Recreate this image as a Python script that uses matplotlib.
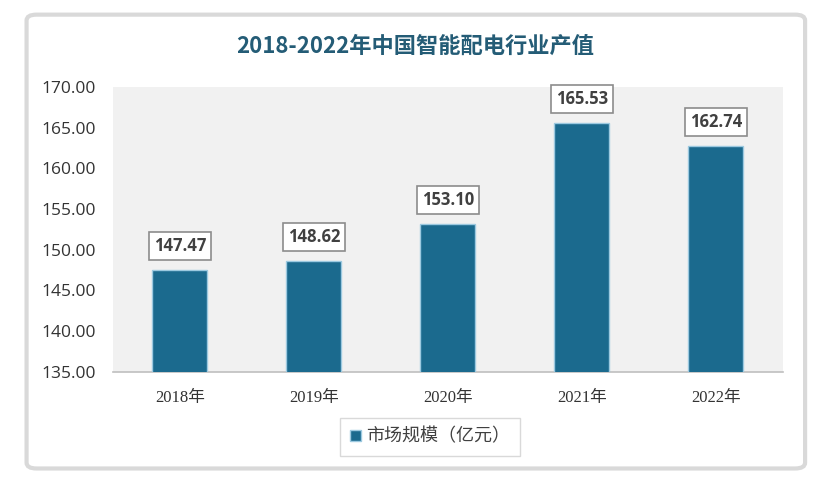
import matplotlib
matplotlib.use("Agg")
import matplotlib.pyplot as plt
from matplotlib.patches import FancyBboxPatch

plt.rcParams['font.family'] = ['Noto Sans CJK SC', 'DejaVu Sans']

categories = ["2018年", "2019年", "2020年", "2021年", "2022年"]
values = [147.47, 148.62, 153.10, 165.53, 162.74]
series_name = "市场规模（亿元）"
title = "2018-2022年中国智能配电行业产值"
yticks = [135, 140, 145, 150, 155, 160, 165, 170]

bar_color = "#1b6a8e"

fig = plt.figure(figsize=(8.3, 4.88), dpi=100)
fig.patch.set_facecolor("white")

# outer card frame
frame = FancyBboxPatch((0.032, 0.04), 0.938, 0.93,
                       boxstyle="round,pad=0.0,rounding_size=0.012",
                       transform=fig.transFigure, facecolor="white",
                       edgecolor="#d9d9d9", linewidth=3, zorder=-10)
fig.patches.append(frame)

ax = fig.add_axes([0.136, 0.238, 0.807, 0.584])
ax.set_zorder(2)
ax.set_facecolor("#f1f1f1")
x = range(len(categories))
bars = ax.bar(x, values, width=0.41, color=bar_color, edgecolor="#9cc9e0",
              linewidth=1.0, zorder=3, label=series_name)
ax.set_ylim(135, 170)
ax.set_xlim(-0.5, len(categories) - 0.5)
ax.set_yticks(yticks)
ax.set_yticklabels([f"{t:.2f}" for t in yticks], fontsize=12.5, color="#333333",
                   family=['Open Sans', 'DejaVu Sans'])
ax.set_xticks(list(x))
ax.set_xticklabels(categories, fontsize=12, color="#333333",
                   family=['Liberation Serif', 'Noto Sans CJK SC'])
ax.tick_params(axis='both', length=0)
ax.tick_params(axis='y', pad=12)
ax.tick_params(axis='x', pad=13)
for s in ["top", "right", "left"]:
    ax.spines[s].set_visible(False)
ax.spines["bottom"].set_color("#bfbfbf")
ax.spines["bottom"].set_linewidth(1.2)

for xi, v in zip(x, values):
    ax.annotate(f"{v:.2f}", (xi, v), xytext=(0, 11), textcoords="offset points",
                ha="center", va="bottom", fontsize=12, fontweight="bold",
                color="#404040", family=['Open Sans', 'DejaVu Sans'],
                bbox=dict(boxstyle="square,pad=0.3", fc="white", ec="#8c8c8c", lw=1.2),
                zorder=5)

fig.text(0.5, 0.905, title, ha="center", va="center", fontsize=16,
         fontweight="bold", color="#245c76")

leg = fig.legend(handles=[bars], labels=[series_name], loc="center",
                 bbox_to_anchor=(0.518, 0.105), frameon=True, fontsize=13,
                 handlelength=0.6, handleheight=0.6, handletextpad=0.3,
                 borderpad=0.55, fancybox=False)
leg.get_frame().set_edgecolor("#d0d0d0")
for t in leg.get_texts():
    t.set_color("#404040")

fig.savefig("out.png", dpi=100)
